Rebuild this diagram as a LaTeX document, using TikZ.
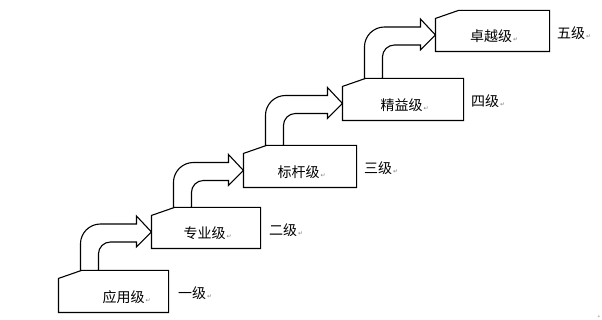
\documentclass[tikz,border=0pt]{standalone}
\usepackage{fontspec}
\setmainfont{Noto Sans CJK SC}
\newfontfamily\symfont{DejaVu Sans}
\usetikzlibrary{positioning,calc}
\newcommand\ret{{\symfont\fontsize{6}{6}\selectfont\color{gray}\,↵}}

\begin{document}
\begin{tikzpicture}[x=1pt,y=1pt,font=\fontsize{14}{16}\selectfont,line width=1.1pt,node distance=7pt,
  lvl/.style={minimum width=110pt,minimum height=40pt,inner sep=0pt},
  lbl/.style={anchor=west,inner sep=0pt},
  grade/.style={inner sep=0pt,yshift=-2pt},
  stair/.style={draw,fill=white,line join=miter}]
  \useasboundingbox (0,0) rectangle (602,320);
  % five steps
  \node[lvl,minimum width=109pt,minimum height=41pt] (b1) at (113.5,28.5) {};
  \node[lvl,minimum width=108pt] (b2) at (206,92) {};
  \node[lvl,minimum width=112pt,minimum height=41pt] (b3) at (300,153.5) {};
  \node[lvl,minimum width=120pt,minimum height=41pt] (b4) at (403,220.5) {};
  \node[lvl,minimum width=113pt] (b5) at (492.5,289) {};
  \foreach \i in {1,...,5}
    \draw (b\i.south west) -- ($(b\i.north west)+(0,-8pt)$) -- ($(b\i.north west)+(23pt,0)$)
      -- (b\i.north east) -- (b\i.south east) -- cycle;
  % curved arrows
  \foreach \i/\j in {1/2,2/3,3/4,4/5}
    \draw[stair] let \p1=(b\i.north west), \p2=(b\j.west) in
      (\x1+22pt,\y1) -- (\x1+22pt,\y2-16pt) arc[start angle=180,end angle=90,radius=20pt]
      -- (\x2-15pt,\y2+4pt) -- (\x2-15pt,\y2+12pt) -- (\x2,\y2-4pt) -- (\x2-15pt,\y2-19pt)
      -- (\x2-15pt,\y2-14pt) -- (\x1+52pt,\y2-14pt) arc[start angle=90,end angle=180,radius=12pt]
      -- (\x1+40pt,\y1) -- cycle;
  % texts
  \node[lbl,xshift=-11.5pt,yshift=-5.5pt] (t1) at (b1.center) {应用级\ret};
  \node[lbl,xshift=-23pt,yshift=-5.5pt] (t2) at (b2.center) {专业级\ret};
  \node[lbl,xshift=-23pt,yshift=-5.5pt] (t3) at (b3.center) {标杆级\ret};
  \node[lbl,xshift=-23pt,yshift=-5.5pt] (t4) at (b4.center) {精益级\ret};
  \node[lbl,xshift=-23pt,yshift=-5.5pt] (t5) at (b5.center) {卓越级\ret};
  \node[grade,right=9pt of b1] (n1) {一级\ret};
  \node[grade,right=8pt of b2] (n2) {二级\ret};
  \node[grade,right=7pt of b3] (n3) {三级\ret};
  \node[grade,right=7pt of b4] (n4) {四级\ret};
  \node[grade,right=7pt of b5] (n5) {五级\ret};
  \node[inner sep=0pt,text=gray,font=\tiny] (mark) at (599,3) {+};
\end{tikzpicture}
\end{document}
